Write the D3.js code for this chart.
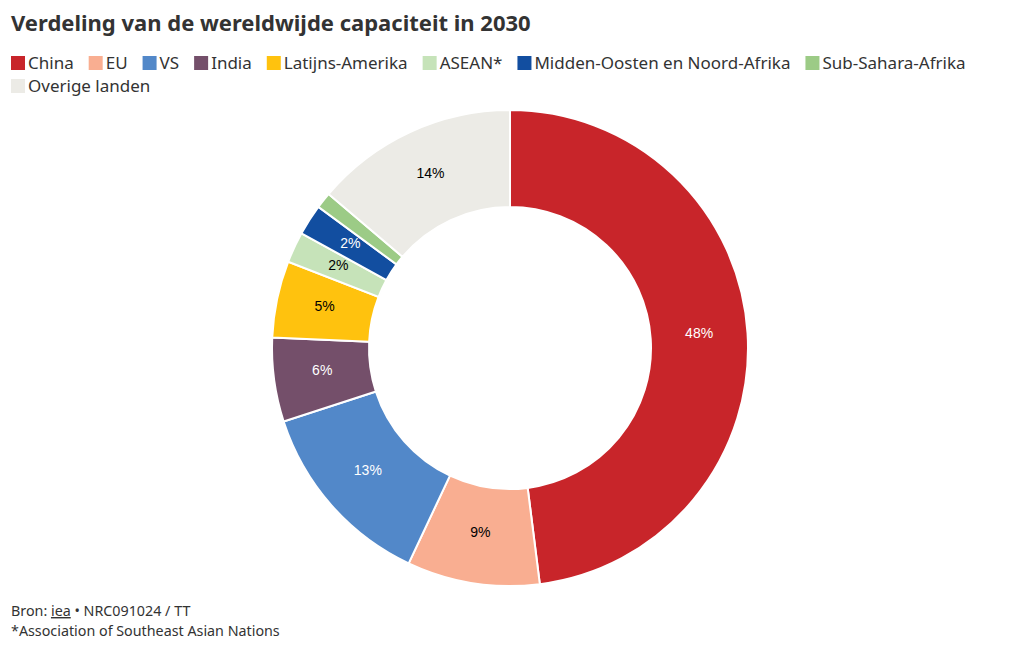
<!DOCTYPE html>
<html><head><meta charset="utf-8">
<script src="https://cdn.jsdelivr.net/npm/d3@7"></script>
<style>
body{margin:0;background:#fff;font-family:"Noto Sans",sans-serif;}
</style></head>
<body><svg id="c" width="1020" height="650"></svg>
<script>
const categories = ["China","EU","VS","India","Latijns-Amerika","ASEAN*","Midden-Oosten en Noord-Afrika","Sub-Sahara-Afrika","Overige landen"];
const values = [48, 9, 13, 5.7, 5.2, 2.1, 2.1, 1.1, 13.8];
const labels = ["48%","9%","13%","6%","5%","2%","2%","","14%"];
const colors = ["#c8252a","#f9ae91","#5288c9","#744f6a","#ffc20e","#c6e3b9","#124ea0","#9ccb86","#ecebe6"];
const labelColors = ["#fff","#000","#fff","#fff","#000","#000","#fff","#000","#000"];

const svg = d3.select("#c");
const font = '"Noto Sans",sans-serif';

svg.append("text").attr("x",11).attr("y",31).attr("font-size",22).attr("font-weight",700)
  .attr("fill","#333").attr("font-family",font).text("Verdeling van de wereldwijde capaciteit in 2030");

// legend
const lg = svg.append("g");
let lx = 11, ly = 63;
categories.forEach((c,i)=>{
  const g = lg.append("g");
  const t = g.append("text").attr("font-size",17).attr("fill","#333").attr("font-family",font).text(c);
  const w = t.node().getComputedTextLength();
  if (lx + 17 + w > 1005) { lx = 11; ly += 23; }
  g.append("rect").attr("x",lx).attr("y",ly-7).attr("width",14).attr("height",14).attr("fill",colors[i]);
  t.attr("x",lx+17).attr("y",ly+6);
  lx += 17 + w + 15;
});

const cx = 510, cy = 348, R = 238, r = 141;
const pie = d3.pie().sort(null).value(d=>d);
const arcs = pie(values);
const arc = d3.arc().innerRadius(r).outerRadius(R);
const g = svg.append("g").attr("transform",`translate(${cx},${cy})`);
g.selectAll("path").data(arcs).join("path")
  .attr("d",arc).attr("fill",(d,i)=>colors[i]).attr("stroke","#fff").attr("stroke-width",2);
g.selectAll("text.lbl").data(arcs).join("text").attr("class","lbl")
  .attr("transform",d=>{const c=arc.centroid(d); return `translate(${c[0]},${c[1]-3})`;})
  .attr("text-anchor","middle").attr("dy","0.35em")
  .attr("font-size",14).attr("font-family",'"Liberation Sans",Arial,sans-serif')
  .attr("fill",(d,i)=>labelColors[i]).text((d,i)=>labels[i]);

// footer
const f1 = svg.append("text").attr("x",11).attr("y",616).attr("font-size",14.3).attr("fill","#333").attr("font-family",font);
f1.append("tspan").text("Bron: ");
f1.append("tspan").attr("text-decoration","underline").text("iea");
f1.append("tspan").text(" • NRC091024 / TT");
svg.append("text").attr("x",11).attr("y",636).attr("font-size",14.3).attr("fill","#333").attr("font-family",font)
  .text("*Association of Southeast Asian Nations");
</script></body></html>
